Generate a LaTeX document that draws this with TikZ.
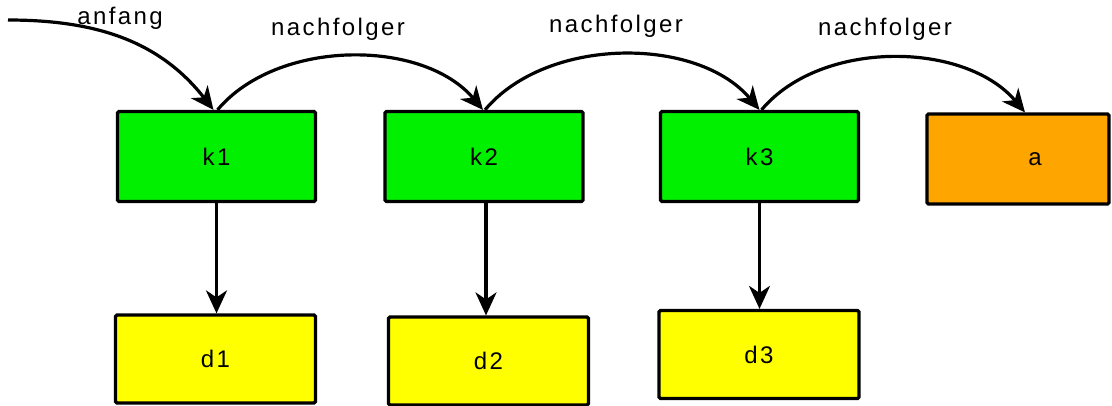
\documentclass[tikz,border=0pt]{standalone}
\usepackage{fontspec}
\setmainfont{Liberation Sans}
\usetikzlibrary{arrows.meta}
\definecolor{boxgreen}{HTML}{00F000}
\definecolor{boxyellow}{HTML}{FFFF00}
\definecolor{boxorange}{HTML}{FFA500}
\begin{document}
\begin{tikzpicture}[x=1pt,y=-1pt,
  txt/.style={font=\fontsize{24}{28}\selectfont\addfontfeatures{LetterSpace=10}, inner sep=0pt},
  box/.style={draw=black, line width=3.2pt, rounded corners=1.5pt, inner sep=0pt, txt},
  kbox/.style={box, fill=boxgreen, minimum width=198pt, minimum height=90pt},
  dbox/.style={box, fill=boxyellow, minimum width=200pt, minimum height=88pt},
  abox/.style={box, fill=boxorange, minimum width=182pt, minimum height=90pt},
  conn/.style={line width=3.2pt, -{Stealth[length=23pt,width=21pt,inset=7pt]}},
  lbl/.style={txt}]
\useasboundingbox (0,0) rectangle (1112,405);
\node[kbox] (k1) at (216.5,156.5) {k1};
\node[kbox] (k2) at (484,156.5) {k2};
\node[kbox] (k3) at (759.5,156.5) {k3};
\node[abox] (a) at (1018,159) {\hspace*{34pt}a};
\node[dbox] (d1) at (215.5,359) {d1};
\node[dbox] (d2) at (488.5,361) {d2};
\node[dbox] (d3) at (759,354.5) {d3};
\coordinate (start) at (8,20);
\draw[conn] (start) to[out=0,in=128] ([xshift=-3pt]k1.north);
\draw[conn] ([xshift=1pt]k1.north) to[out=50,in=130,looseness=0.9] ([xshift=-1pt]k2.north);
\draw[conn] ([xshift=1pt]k2.north) to[out=50,in=130,looseness=0.9] ([xshift=0pt]k3.north);
\draw[conn] ([xshift=2pt]k3.north) to[out=50,in=130,looseness=0.9] ([xshift=7pt]a.north);
\draw[conn] (k1.south) -- (k1.south |- d1.north);
\draw[conn] ([xshift=2pt]k2.south) -- ([xshift=2pt]k2.south |- d2.north);
\draw[conn] (k3.south) -- (k3.south |- d3.north);
\node[lbl] (l0) at (120,18) {anfang};
\node[lbl] (l1) at (338,29) {nachfolger};
\node[lbl] (l2) at (616,26) {nachfolger};
\node[lbl] (l3) at (885,29) {nachfolger};
\end{tikzpicture}
\end{document}
